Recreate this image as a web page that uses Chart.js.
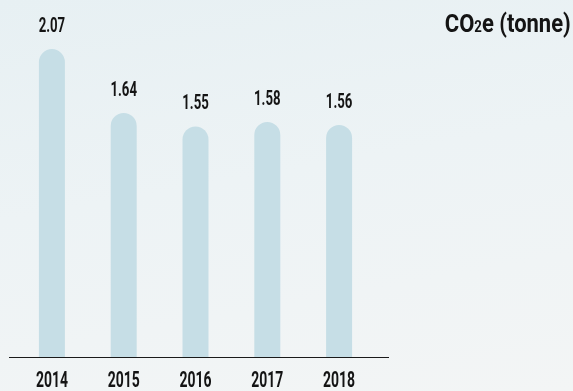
<!DOCTYPE html>
<html lang="en">
<head>
  <meta charset="UTF-8" />
  <title>CO2e (tonne)</title>
  <script src="https://cdn.jsdelivr.net/npm/chart.js"></script>
  <style>
    html, body { margin: 0; padding: 0; }
    body {
      width: 573px;
      height: 391px;
      overflow: hidden;
      background: linear-gradient(170deg, #e7f0f3 0%, #edf3f5 45%, #f3f5f5 100%);
      font-family: Roboto, "DejaVu Sans Condensed", sans-serif;
    }
    .chart-box { position: relative; width: 573px; height: 391px; }
    .unit-title {
      position: absolute;
      top: 10px;
      right: 2px;
      margin: 0;
      font-size: 26.5px;
      font-weight: bold;
      color: #141414;
      line-height: 1;
      white-space: nowrap;
      transform: scaleX(0.83);
      transform-origin: right center;
    }
    .unit-title .sub { font-size: 60%; }
  </style>
</head>
<body>
  <div class="chart-box">
    <h2 class="unit-title">CO<span class="sub">2</span>e (tonne)</h2>
    <canvas id="co2Grafico" width="573" height="391"></canvas>
  </div>

  <script>
    // dados
    const years = ['2014', '2015', '2016', '2017', '2018'];
    const co2Tonnes = [2.07, 1.64, 1.55, 1.58, 1.56];
    const valueLabels = ['2.07', '1.64', '1.55', '1.58', '1.56'];

    const fontFamily = 'Roboto, "DejaVu Sans Condensed", sans-serif';

    // narrow text: the installed fonts are too wide, so squeeze them sideways
    function condensedText(ctx, text, x, y, size, squeeze) {
      ctx.save();
      ctx.translate(x, y);
      ctx.scale(squeeze, 1);
      ctx.font = 'bold ' + size + 'px ' + fontFamily;
      ctx.fillStyle = '#141414';
      ctx.textAlign = 'center';
      ctx.textBaseline = 'alphabetic';
      ctx.fillText(text, 0, 0);
      ctx.restore();
    }

    // values above each bar + years under the baseline
    const labelsPlugin = {
      id: 'barLabels',
      afterDatasetsDraw(chart) {
        const { ctx, scales } = chart;
        const meta = chart.getDatasetMeta(0);
        const baseY = scales.y.getPixelForValue(0);
        meta.data.forEach((bar, i) => {
          condensedText(ctx, valueLabels[i], bar.x, bar.y - 17, 20, 0.66);
        });
        chart.data.labels.forEach((lbl, i) => {
          condensedText(ctx, lbl, scales.x.getPixelForTick(i), baseY + 30, 22.5, 0.62);
        });
      }
    };

    // baseline under the bars, a bit wider than the plot area
    const baselinePlugin = {
      id: 'baseline',
      afterDatasetsDraw(chart) {
        const { ctx, chartArea, scales } = chart;
        const y = Math.round(scales.y.getPixelForValue(0)) + 0.5;
        ctx.save();
        ctx.strokeStyle = '#1a1a1a';
        ctx.lineWidth = 1.2;
        ctx.beginPath();
        ctx.moveTo(chartArea.left - 7, y);
        ctx.lineTo(chartArea.right + 14, y);
        ctx.stroke();
        ctx.restore();
      }
    };

    const ctx = document.getElementById('co2Grafico').getContext('2d');
    new Chart(ctx, {
      type: 'bar',
      data: {
        labels: years,
        datasets: [{
          label: 'CO2e (tonne)',
          data: co2Tonnes,
          backgroundColor: '#c6dee6',
          borderWidth: 0,
          borderSkipped: 'bottom',
          borderRadius: { topLeft: 13, topRight: 13, bottomLeft: 0, bottomRight: 0 },
          barPercentage: 0.362,
          categoryPercentage: 1
        }]
      },
      options: {
        responsive: false,
        animation: false,
        layout: {
          padding: { left: 16, right: 198, top: 0, bottom: 34 }
        },
        plugins: {
          legend: { display: false },
          tooltip: { enabled: false }
        },
        scales: {
          x: { display: false },
          y: {
            display: false,
            min: 0,
            max: 2.4
          }
        }
      },
      plugins: [baselinePlugin, labelsPlugin]
    });
  </script>
</body>
</html>
